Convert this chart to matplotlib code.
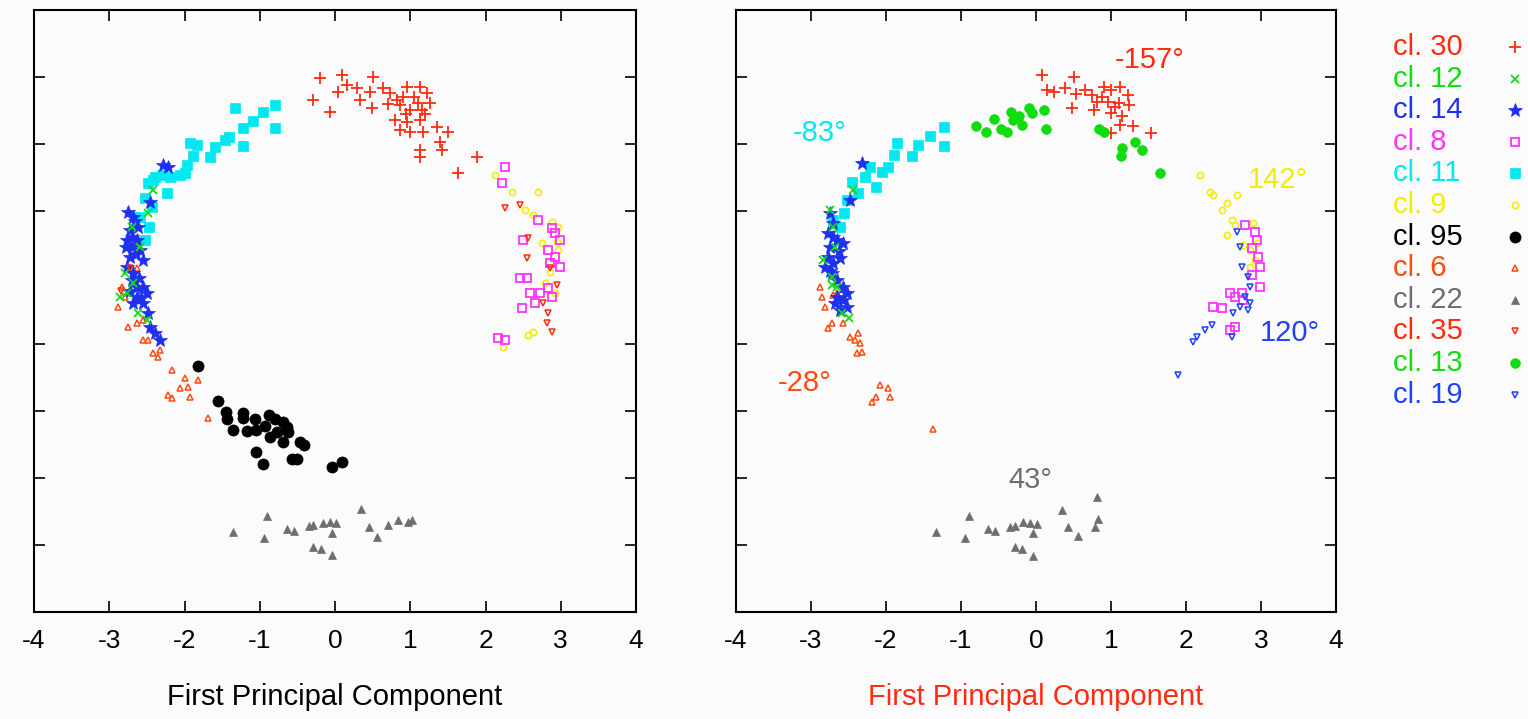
import matplotlib
matplotlib.use("Agg")
import matplotlib.pyplot as plt
from matplotlib.lines import Line2D

plt.rcParams['font.family'] = ['Liberation Sans', 'DejaVu Sans']
plt.rcParams['axes.unicode_minus'] = False

# ---- cluster names (legend order) ----
clusters = ["cl. 30", "cl. 12", "cl. 14", "cl. 8", "cl. 11", "cl. 9",
            "cl. 95", "cl. 6", "cl. 22", "cl. 35", "cl. 13", "cl. 19"]

# ---- left panel points (first principal component, second component) ----
left_cl30 = [(-0.2, 2.98), (0.09, 3.03), (0.5, 3.0), (-0.29, 2.65), (-0.07, 2.48),
             (0.04, 2.77), (0.16, 2.88), (0.29, 2.83), (0.33, 2.65), (0.47, 2.77),
             (0.49, 2.54), (0.64, 2.83), (0.73, 2.76), (0.82, 2.65), (0.86, 2.58),
             (0.96, 2.85), (1.0, 2.5), (1.13, 2.85), (1.1, 2.61), (1.22, 2.76),
             (1.26, 2.61), (1.13, 2.36), (0.96, 2.33), (0.86, 2.2), (1.36, 2.25),
             (1.5, 2.18), (1.4, 2.03), (1.42, 1.9), (1.13, 1.9), (1.13, 1.8),
             (1.89, 1.8), (1.63, 1.56), (1.0, 2.18), (1.17, 2.18), (0.8, 2.36),
             (0.9, 2.7), (1.05, 2.7), (0.95, 2.45), (1.15, 2.5), (0.7, 2.6), (1.2, 2.45)]
left_cl12 = [(-2.42, 1.31), (-2.70, 0.76), (-2.59, 0.46), (-2.79, 0.07), (-2.86, -0.29),
             (-2.68, -0.08), (-2.62, -0.53), (-2.50, -0.63), (-2.76, -0.23), (-2.49, 0.97)]
left_cl14 = [(-2.29, 1.68), (-2.22, 1.65), (-2.46, 1.13), (-2.75, 0.98), (-2.68, 0.91),
             (-2.72, 0.71), (-2.76, 0.56), (-2.70, 0.46), (-2.72, 0.31), (-2.76, 0.16),
             (-2.63, 0.56), (-2.59, 0.41), (-2.68, 0.07), (-2.70, -0.04), (-2.63, -0.14),
             (-2.55, -0.14), (-2.63, -0.29), (-2.55, -0.38), (-2.68, -0.38), (-2.50, -0.23),
             (-2.49, -0.53), (-2.46, -0.74), (-2.39, -0.83), (-2.33, -0.93), (-2.55, 0.26),
             (-2.62, 0.76), (-2.70, 0.61), (-2.65, 0.35), (-2.78, 0.45), (-2.6, 0.0),
             (-2.72, -0.2), (-2.58, -0.3), (-2.66, 0.85)]
left_cl8 = [(2.26, 1.65), (2.22, 1.41), (2.50, 0.56), (2.70, 0.86), (2.88, 0.74),
            (2.83, 0.41), (2.92, 0.31), (2.99, 0.16), (2.86, 0.22), (2.46, -0.01),
            (2.55, -0.01), (2.59, -0.23), (2.72, -0.23), (2.83, -0.16), (2.88, -0.29),
            (2.49, -0.45), (2.66, -0.38), (2.17, -0.90), (2.26, -0.93), (2.99, 0.56),
            (2.92, 0.67)]
left_cl11 = [(-1.33, 2.54), (-0.96, 2.48), (-0.80, 2.58), (-1.09, 2.34), (-1.22, 2.24),
             (-0.80, 2.24), (-1.41, 2.10), (-1.46, 2.06), (-1.22, 1.97), (-1.59, 1.95),
             (-1.66, 1.80), (-1.83, 1.98), (-1.93, 2.01), (-1.89, 1.82), (-1.97, 1.68),
             (-2.0, 1.56), (-2.06, 1.53), (-2.19, 1.50), (-2.39, 1.50), (-2.49, 1.41),
             (-2.23, 1.26), (-2.52, 1.19), (-2.43, 1.06), (-2.59, 0.91), (-2.47, 0.76),
             (-2.52, 0.56), (-2.42, 1.46), (-2.30, 1.53)]
left_cl9 = [(2.13, 1.53), (2.35, 1.28), (2.70, 1.28), (2.52, 1.01), (2.63, 0.94),
            (2.88, 0.83), (2.96, 0.76), (2.75, 0.52), (2.96, 0.41), (2.86, 0.08),
            (2.79, -0.08), (2.92, -0.23), (2.63, -0.81), (2.56, -0.86), (2.23, -1.04),
            (2.95, 0.53)]
left_cl95 = [(-1.82, -1.32), (-1.55, -1.84), (-1.45, -2.01), (-1.44, -2.11), (-1.22, -2.02),
             (-1.22, -2.10), (-1.36, -2.28), (-1.17, -2.29), (-1.06, -2.11), (-1.05, -2.28),
             (-0.93, -2.22), (-0.88, -2.05), (-0.80, -2.11), (-0.77, -2.31), (-0.86, -2.38),
             (-0.69, -2.16), (-0.64, -2.23), (-0.62, -2.31), (-0.69, -2.46), (-0.47, -2.46),
             (-0.41, -2.50), (-1.05, -2.61), (-0.96, -2.79), (-0.57, -2.71), (-0.50, -2.71),
             (-0.04, -2.83), (0.09, -2.76)]
left_cl6 = [(-2.63, 0.14), (-2.83, -0.14), (-2.79, -0.29), (-2.88, -0.44), (-2.75, -0.74),
            (-2.63, -0.68), (-2.55, -0.63), (-2.55, -0.93), (-2.49, -0.93), (-2.42, -1.13),
            (-2.35, -1.19), (-2.33, -1.08), (-2.17, -1.38), (-1.99, -1.50), (-2.06, -1.65),
            (-1.95, -1.64), (-2.22, -1.75), (-2.17, -1.80), (-1.93, -1.78), (-1.82, -1.53),
            (-1.69, -2.10)]
left_cl22 = [(-1.36, -3.80), (-0.90, -3.56), (-0.94, -3.89), (-0.64, -3.76), (-0.54, -3.79),
             (-0.35, -3.71), (-0.29, -3.70), (-0.16, -3.67), (-0.07, -3.65), (0.01, -3.67),
             (-0.04, -3.82), (-0.29, -4.03), (-0.19, -4.06), (-0.04, -4.15), (0.35, -3.46),
             (0.45, -3.73), (0.56, -3.88), (0.70, -3.70), (0.84, -3.62), (1.02, -3.62),
             (0.97, -3.65)]
left_cl35 = [(2.26, 1.04), (2.46, 1.09), (2.56, 0.59), (2.55, 0.29), (2.86, 0.14),
             (2.76, -0.38), (2.83, -0.53), (2.82, -0.68), (2.88, -0.81), (2.95, -0.11),
             (-2.72, 0.15), (-2.85, -0.2)]

# ---- right panel points ----
right_cl30 = [(0.08, 3.03), (0.51, 3.00), (0.15, 2.80), (0.24, 2.78), (0.39, 2.83),
              (0.53, 2.75), (0.65, 2.80), (0.75, 2.73), (0.91, 2.85), (1.00, 2.80),
              (1.12, 2.85), (1.23, 2.73), (0.81, 2.63), (0.96, 2.63), (1.11, 2.61),
              (1.24, 2.58), (0.48, 2.53), (0.77, 2.51), (1.00, 2.46), (1.15, 2.41),
              (1.29, 2.26), (1.53, 2.16), (1.12, 2.28), (1.00, 2.16), (0.88, 2.7),
              (1.05, 2.55)]
right_cl12 = [(-2.44, 1.31), (-2.74, 1.01), (-2.70, 0.76), (-2.68, 0.46), (-2.72, 0.01),
              (-2.72, -0.11), (-2.65, -0.14), (-2.58, -0.53), (-2.50, -0.60), (-2.84, 0.26)]
right_cl14 = [(-2.32, 1.71), (-2.48, 1.16), (-2.74, 0.97), (-2.70, 0.82), (-2.78, 0.67),
              (-2.65, 0.56), (-2.74, 0.46), (-2.57, 0.52), (-2.78, 0.31), (-2.70, 0.22),
              (-2.81, 0.16), (-2.61, 0.29), (-2.72, 0.07), (-2.65, -0.04), (-2.57, -0.14),
              (-2.65, -0.29), (-2.57, -0.33), (-2.68, -0.38), (-2.52, -0.44), (-2.61, -0.48),
              (-2.52, -0.23), (-2.70, 0.60), (-2.62, 0.40), (-2.75, 0.10)]
right_cl8 = [(2.78, 0.79), (2.92, 0.68), (2.94, 0.56), (2.88, 0.44), (2.96, 0.31),
             (2.98, 0.16), (2.88, 0.04), (2.98, -0.14), (2.58, -0.23), (2.65, -0.29),
             (2.74, -0.23), (2.76, -0.33), (2.36, -0.44), (2.48, -0.45), (2.58, -0.78),
             (2.65, -0.74)]
right_cl11 = [(-1.23, 2.25), (-1.23, 1.97), (-1.42, 2.11), (-1.58, 1.98), (-1.66, 1.81),
              (-1.85, 2.01), (-1.89, 1.83), (-1.97, 1.66), (-2.06, 1.58), (-2.21, 1.66),
              (-2.28, 1.51), (-2.46, 1.43), (-2.37, 1.26), (-2.52, 1.16), (-2.56, 0.96),
              (-2.61, 0.76), (-2.70, 0.86), (-2.13, 1.36)]
right_cl9 = [(2.18, 1.53), (2.32, 1.28), (2.36, 1.23), (2.54, 1.12), (2.68, 1.23),
             (2.48, 1.01), (2.61, 0.86), (2.65, 0.79), (2.54, 0.64), (2.89, 0.82),
             (2.76, 0.49), (2.85, 0.41), (2.92, 0.26), (2.85, 0.16), (2.94, 0.52)]
right_cl6 = [(-2.88, -0.14), (-2.85, -0.29), (-2.81, -0.44), (-2.70, -0.26), (-2.65, -0.23),
             (-2.72, -0.68), (-2.77, -0.76), (-2.57, -0.68), (-2.48, -0.89), (-2.41, -0.93),
             (-2.37, -0.83), (-2.35, -0.98), (-2.39, -1.13), (-2.32, -1.11), (-2.08, -1.61),
             (-1.97, -1.65), (-2.14, -1.79), (-2.18, -1.86), (-1.95, -1.79), (-1.38, -2.27)]
right_cl22 = [(-1.34, -3.80), (-0.89, -3.56), (-0.95, -3.89), (-0.64, -3.76), (-0.55, -3.79),
              (-0.35, -3.73), (-0.28, -3.71), (-0.17, -3.65), (-0.08, -3.67), (0.01, -3.68),
              (-0.04, -3.82), (-0.28, -4.03), (-0.19, -4.06), (-0.04, -4.16), (0.35, -3.47),
              (0.43, -3.73), (0.56, -3.86), (0.81, -3.28), (0.83, -3.61), (0.79, -3.73)]
right_cl13 = [(-0.80, 2.26), (-0.67, 2.17), (-0.56, 2.37), (-0.47, 2.22), (-0.39, 2.17),
              (-0.33, 2.48), (-0.31, 2.36), (-0.19, 2.28), (-0.23, 2.41), (-0.09, 2.53),
              (-0.05, 2.46), (0.11, 2.51), (0.13, 2.22), (0.84, 2.22), (0.91, 2.18),
              (1.15, 1.93), (1.13, 1.82), (1.32, 2.03), (1.41, 1.91), (1.65, 1.57)]
right_cl19 = [(2.68, 0.68), (2.72, 0.46), (2.74, 0.16), (2.82, 0.01), (2.85, -0.14),
              (2.78, -0.29), (2.85, -0.38), (2.72, -0.44), (2.62, -0.53), (2.82, -0.48),
              (2.34, -0.71), (2.25, -0.78), (2.09, -0.96), (2.14, -0.89), (2.61, -0.89),
              (1.89, -1.46)]

# angle labels on the right panel
angle_text = ["-157°", "-83°", "142°", "120°", "-28°", "43°"]
angle_x = [1.52, -2.88, 3.22, 3.38, -3.08, -0.08]
angle_y = [3.25, 2.16, 1.46, -0.83, -1.58, -3.03]
angle_cluster = ["cl. 30", "cl. 11", "cl. 9", "cl. 19", "cl. 6", "cl. 22"]

styles = {
    "cl. 30": dict(color="#ff2a10", marker="+", ms=9, mew=1.3, fill=True),
    "cl. 12": dict(color="#10dd10", marker="x", ms=6, mew=1.3, fill=True),
    "cl. 14": dict(color="#1f30f0", marker="*", ms=10, mew=0.5, fill=True),
    "cl. 8":  dict(color="#ff33ff", marker="s", ms=6, mew=1.3, fill=False),
    "cl. 11": dict(color="#00e8f0", marker="s", ms=7, mew=0.5, fill=True),
    "cl. 9":  dict(color="#f2ee00", marker="o", ms=4.5, mew=1.2, fill=False),
    "cl. 95": dict(color="#000000", marker="o", ms=8, mew=0.5, fill=True),
    "cl. 6":  dict(color="#ff4a10", marker="^", ms=5, mew=1.1, fill=False),
    "cl. 22": dict(color="#6e6e6e", marker="^", ms=5.5, mew=0.5, fill=True),
    "cl. 35": dict(color="#ff2a10", marker="v", ms=4.5, mew=1.1, fill=False),
    "cl. 13": dict(color="#10dd10", marker="o", ms=7, mew=0.5, fill=True),
    "cl. 19": dict(color="#2040ff", marker="v", ms=4.5, mew=1.1, fill=False),
}

left_sets = [("cl. 22", left_cl22), ("cl. 95", left_cl95), ("cl. 30", left_cl30),
             ("cl. 11", left_cl11), ("cl. 6", left_cl6), ("cl. 14", left_cl14),
             ("cl. 12", left_cl12), ("cl. 9", left_cl9), ("cl. 8", left_cl8),
             ("cl. 35", left_cl35)]
right_sets = [("cl. 22", right_cl22), ("cl. 30", right_cl30), ("cl. 13", right_cl13),
              ("cl. 11", right_cl11), ("cl. 6", right_cl6), ("cl. 14", right_cl14),
              ("cl. 12", right_cl12), ("cl. 9", right_cl9), ("cl. 8", right_cl8),
              ("cl. 19", right_cl19)]


def draw(ax, name, pts):
    s = styles[name]
    xs = [p[0] for p in pts]
    ys = [p[1] for p in pts]
    ax.plot(xs, ys, linestyle="none", marker=s["marker"], ms=s["ms"], mew=s["mew"],
            color=s["color"], mfc=s["color"] if s["fill"] else "none")


fig = plt.figure(figsize=(15.28, 7.19), dpi=100, facecolor="#fbfbfb")
ax1 = fig.add_axes([34 / 1528, 107 / 719, 602 / 1528, 602 / 719])
ax2 = fig.add_axes([736 / 1528, 107 / 719, 600 / 1528, 602 / 719])

for ax, sets in [(ax1, left_sets), (ax2, right_sets)]:
    ax.set_facecolor("#fbfbfb")
    for name, pts in sets:
        draw(ax, name, pts)
    ax.set_xlim(-4, 4)
    ax.set_ylim(-5, 4)
    ax.set_xticks([-4, -3, -2, -1, 0, 1, 2, 3, 4])
    ax.set_yticks([3, 2, 1, -1, -2, -3, -4])
    ax.set_yticklabels([])
    ax.tick_params(direction="in", top=True, right=True, length=8, width=1.2,
                   labelsize=19, pad=12)
    for sp in ax.spines.values():
        sp.set_linewidth(1.5)

ax1.set_xlabel("First Principal Component", fontsize=21, labelpad=22)
ax2.set_xlabel("First Principal Component", fontsize=21, labelpad=22, color="#ff2a10")

for t, x, y, c in zip(angle_text, angle_x, angle_y, angle_cluster):
    ax2.text(x, y, t, color=styles[c]["color"], fontsize=21, ha="center", va="center")

# legend drawn by hand: text left-aligned, marker on the right
for i, name in enumerate(clusters):
    s = styles[name]
    yf = 1 - (47 + i * 31.6) / 719
    fig.text(1393 / 1528, yf, name, color=s["color"], fontsize=21,
             ha="left", va="center")
    fig.add_artist(Line2D([1515 / 1528], [yf], transform=fig.transFigure,
                          linestyle="none", marker=s["marker"], ms=s["ms"],
                          mew=s["mew"], color=s["color"],
                          mfc=s["color"] if s["fill"] else "none"))

fig.savefig("out.png", dpi=100, facecolor=fig.get_facecolor())
